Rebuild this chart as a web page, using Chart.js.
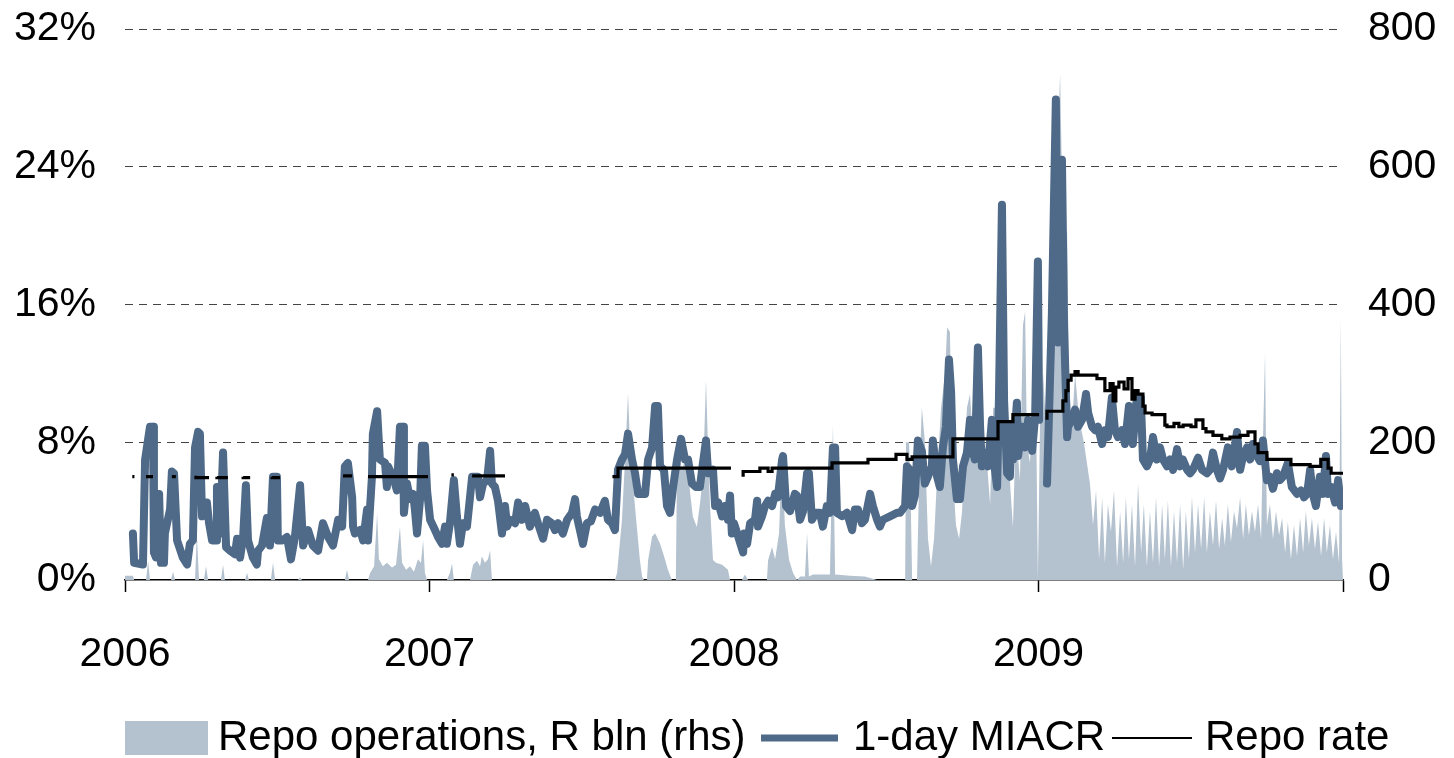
<!DOCTYPE html>
<html>
<head>
<meta charset="utf-8">
<script src="https://cdn.jsdelivr.net/npm/chart.js@4.4.1/dist/chart.umd.min.js"></script>
<style>
  html, body { margin: 0; padding: 0; background: #fff; }
</style>
</head>
<body>
<canvas id="chart" width="1454" height="758"></canvas>
<script>
// year ticks shown under the axis
const yearTicks = [2006, 2007, 2008, 2009];

// 1-day MIACR, % (date as decimal year)
const miacr = [
  [2006.026, 2.7], [2006.030, 1.0], [2006.059, 0.9], [2006.066, 7.0], [2006.082, 8.9], [2006.092, 8.9],
  [2006.095, 1.6], [2006.102, 1.3], [2006.105, 5.0], [2006.112, 5.0], [2006.118, 1.0], [2006.128, 1.0],
  [2006.131, 2.7], [2006.148, 4.1], [2006.154, 6.3], [2006.161, 6.2], [2006.171, 2.3], [2006.190, 1.3],
  [2006.204, 0.9], [2006.213, 2.1], [2006.223, 2.3], [2006.230, 7.7], [2006.240, 8.6], [2006.246, 8.5],
  [2006.253, 3.7], [2006.263, 4.5], [2006.269, 4.5], [2006.276, 3.3], [2006.286, 2.3], [2006.299, 2.3],
  [2006.302, 5.4], [2006.305, 5.4], [2006.312, 2.7], [2006.322, 7.4], [2006.325, 7.4], [2006.332, 1.9],
  [2006.345, 1.7], [2006.361, 1.5], [2006.368, 2.4], [2006.378, 1.3], [2006.388, 2.5], [2006.397, 5.5],
  [2006.404, 2.3], [2006.420, 1.3], [2006.433, 0.9], [2006.437, 1.7], [2006.450, 2.0], [2006.466, 3.6],
  [2006.476, 2.0], [2006.486, 6.0], [2006.499, 6.0], [2006.502, 2.3], [2006.516, 2.3], [2006.532, 2.5],
  [2006.545, 1.2], [2006.558, 2.5], [2006.575, 5.5], [2006.585, 2.0], [2006.601, 2.9], [2006.617, 2.0],
  [2006.634, 1.7], [2006.650, 3.3], [2006.667, 2.5], [2006.683, 2.0], [2006.700, 3.5], [2006.713, 3.1],
  [2006.722, 6.6], [2006.732, 6.8], [2006.746, 4.8], [2006.749, 3.1], [2006.755, 2.7], [2006.772, 2.9],
  [2006.782, 2.3], [2006.795, 4.1], [2006.798, 2.3], [2006.811, 6.0], [2006.814, 8.5], [2006.828, 9.8],
  [2006.837, 7.0], [2006.854, 6.8], [2006.860, 5.4], [2006.864, 6.6], [2006.880, 6.0], [2006.893, 5.2],
  [2006.903, 8.9], [2006.913, 8.9], [2006.916, 3.9], [2006.926, 5.6], [2006.936, 4.7], [2006.946, 5.0],
  [2006.952, 4.1], [2006.959, 2.7], [2006.969, 4.7], [2006.975, 7.8], [2006.985, 7.8], [2006.992, 5.2],
  [2007.002, 3.5], [2007.018, 2.9], [2007.028, 2.5], [2007.041, 2.1], [2007.051, 3.1], [2007.057, 2.1],
  [2007.067, 3.3], [2007.080, 5.8], [2007.090, 3.7], [2007.100, 2.1], [2007.110, 3.3], [2007.123, 3.1],
  [2007.133, 4.8], [2007.140, 6.0], [2007.159, 6.0], [2007.166, 4.8], [2007.176, 5.6], [2007.189, 5.8],
  [2007.199, 7.5], [2007.205, 5.6], [2007.215, 5.4], [2007.225, 4.6], [2007.238, 2.7], [2007.248, 4.3],
  [2007.255, 3.1], [2007.264, 3.5], [2007.281, 3.3], [2007.291, 4.5], [2007.304, 3.5], [2007.314, 4.3],
  [2007.330, 3.1], [2007.346, 3.9], [2007.356, 3.3], [2007.373, 2.4], [2007.386, 3.5], [2007.402, 3.3],
  [2007.412, 2.9], [2007.422, 3.3], [2007.438, 2.7], [2007.452, 3.5], [2007.468, 3.9], [2007.478, 4.7],
  [2007.484, 3.7], [2007.504, 2.1], [2007.517, 3.3], [2007.530, 3.4], [2007.544, 4.1], [2007.560, 3.9],
  [2007.576, 4.6], [2007.586, 3.5], [2007.599, 3.3], [2007.609, 2.9], [2007.619, 6.4], [2007.632, 7.0],
  [2007.642, 7.3], [2007.652, 8.5], [2007.665, 7.0], [2007.675, 6.2], [2007.685, 5.0], [2007.698, 5.0],
  [2007.708, 5.0], [2007.718, 7.0], [2007.731, 7.7], [2007.741, 10.1], [2007.750, 10.1], [2007.757, 6.6],
  [2007.770, 6.4], [2007.780, 4.3], [2007.790, 3.9], [2007.800, 5.4], [2007.813, 7.0], [2007.826, 8.2],
  [2007.839, 7.0], [2007.849, 7.0], [2007.862, 5.6], [2007.875, 5.4], [2007.888, 5.4], [2007.898, 6.8],
  [2007.908, 8.1], [2007.915, 6.2], [2007.931, 6.4], [2007.938, 4.3], [2007.948, 4.5], [2007.961, 3.7],
  [2007.970, 4.3], [2007.980, 3.5], [2007.987, 4.9], [2007.993, 2.7], [2008.000, 3.3], [2008.030, 1.6],
  [2008.033, 2.7], [2008.043, 2.1], [2008.053, 3.3], [2008.069, 3.5], [2008.076, 4.6], [2008.079, 3.1],
  [2008.092, 3.7], [2008.102, 4.3], [2008.112, 4.6], [2008.125, 4.3], [2008.135, 5.0], [2008.144, 4.8],
  [2008.158, 7.0], [2008.161, 7.2], [2008.171, 4.3], [2008.184, 4.0], [2008.200, 5.0], [2008.207, 4.9],
  [2008.217, 3.5], [2008.227, 4.0], [2008.240, 6.2], [2008.246, 6.2], [2008.256, 3.5], [2008.269, 3.9],
  [2008.282, 3.9], [2008.292, 3.1], [2008.305, 4.3], [2008.315, 3.9], [2008.325, 7.7], [2008.332, 7.7],
  [2008.338, 3.9], [2008.355, 3.7], [2008.371, 3.9], [2008.388, 2.9], [2008.397, 4.1], [2008.407, 4.1],
  [2008.420, 3.3], [2008.430, 3.5], [2008.447, 5.0], [2008.456, 4.3], [2008.470, 3.5], [2008.479, 3.1],
  [2008.489, 3.5], [2008.512, 3.7], [2008.535, 3.9], [2008.545, 3.9], [2008.562, 4.3], [2008.568, 6.6],
  [2008.578, 6.4], [2008.585, 4.3], [2008.594, 4.9], [2008.604, 8.1], [2008.617, 7.5], [2008.627, 5.6],
  [2008.637, 6.0], [2008.650, 6.6], [2008.653, 8.1], [2008.667, 6.0], [2008.676, 5.4], [2008.686, 7.7],
  [2008.696, 8.9], [2008.706, 12.8], [2008.713, 10.9], [2008.719, 7.0], [2008.732, 4.7], [2008.742, 4.7],
  [2008.752, 6.6], [2008.765, 7.4], [2008.775, 9.3], [2008.785, 7.4], [2008.791, 7.0], [2008.801, 13.5],
  [2008.808, 9.0], [2008.814, 6.6], [2008.824, 7.4], [2008.834, 6.6], [2008.847, 9.3], [2008.850, 7.4],
  [2008.864, 5.4], [2008.870, 10.5], [2008.880, 21.8], [2008.887, 10.4], [2008.897, 6.2], [2008.906, 6.0],
  [2008.913, 9.0], [2008.916, 7.0], [2008.929, 10.3], [2008.933, 7.2], [2008.946, 8.9], [2008.956, 7.7],
  [2008.966, 9.3], [2008.979, 7.5], [2008.989, 9.5], [2008.998, 18.5], [2009.002, 9.3], [2009.015, null],
  [2009.028, 5.6], [2009.044, 15.5], [2009.057, 27.9], [2009.064, 13.8], [2009.077, 24.4], [2009.084, 14.7],
  [2009.094, 8.3], [2009.097, 8.9], [2009.110, 9.3], [2009.120, 9.9], [2009.130, 8.9], [2009.143, 9.3],
  [2009.156, 10.8], [2009.163, 9.7], [2009.176, 8.9], [2009.186, 8.7], [2009.195, 8.9], [2009.209, 7.9],
  [2009.218, 8.7], [2009.228, 8.3], [2009.241, 10.6], [2009.251, 8.7], [2009.261, 8.3], [2009.274, 8.7],
  [2009.284, 7.9], [2009.297, 10.1], [2009.310, 7.9], [2009.323, 10.6], [2009.336, 10.6], [2009.343, 7.0],
  [2009.356, 6.6], [2009.366, 7.0], [2009.376, 8.3], [2009.389, 7.0], [2009.399, 7.7], [2009.409, 7.0],
  [2009.422, 6.6], [2009.432, 7.0], [2009.442, 6.4], [2009.455, 7.6], [2009.465, 6.6], [2009.474, 7.0],
  [2009.488, 6.4], [2009.498, 6.2], [2009.507, 6.4], [2009.524, 7.1], [2009.537, 6.4], [2009.553, 6.2],
  [2009.563, 6.4], [2009.573, 7.4], [2009.586, 6.4], [2009.596, 5.9], [2009.606, 6.4], [2009.622, 7.7],
  [2009.635, 6.6], [2009.652, 8.6], [2009.662, 6.4], [2009.672, 7.2], [2009.685, 7.7], [2009.695, 7.0],
  [2009.704, 7.9], [2009.718, 7.2], [2009.727, 6.9], [2009.737, 8.1], [2009.750, 5.8], [2009.760, 6.0],
  [2009.770, 5.3], [2009.783, 6.2], [2009.793, 5.8], [2009.803, 6.0], [2009.819, 6.8], [2009.832, 5.4],
  [2009.849, 5.0], [2009.862, 5.2], [2009.872, 4.8], [2009.882, 5.0], [2009.892, 6.4], [2009.901, 5.0],
  [2009.911, 4.3], [2009.924, 6.0], [2009.934, 5.0], [2009.944, 7.2], [2009.951, 5.0], [2009.961, 5.4],
  [2009.974, 4.5], [2009.984, 5.8], [2009.993, 4.3]
];

// Repo rate, % (null = no value shown)
const repoRate = [
  [2006.024, 6.0], [2006.031, 6.0], [2006.050, null],
  [2006.069, 6.0], [2006.092, 6.0], [2006.120, null],
  [2006.154, 6.0], [2006.167, 6.0], [2006.200, null],
  [2006.233, 6.05], [2006.276, 5.95], [2006.290, null],
  [2006.302, 6.0], [2006.338, 5.95], [2006.360, null],
  [2006.388, 6.0], [2006.411, 5.95], [2006.450, null],
  [2006.483, 6.0], [2006.509, 5.95], [2006.600, null],
  [2006.716, 6.05], [2006.746, 6.05], [2006.770, null],
  [2006.798, 6.0], [2006.995, 6.0], [2007.030, null],
  [2007.072, 6.1], [2007.080, 6.1], [2007.100, null],
  [2007.140, 6.05], [2007.248, 6.05], [2007.400, null],
  [2007.606, 6.1], [2007.619, 6.0], [2007.987, 6.5], [2007.990, 6.5], [2008.010, null],
  [2008.030, 6.0], [2008.085, 6.3], [2008.112, 6.5], [2008.125, 6.3], [2008.322, 6.5],
  [2008.440, 6.8], [2008.532, 7.0], [2008.568, 7.3], [2008.585, 7.0], [2008.719, 7.15],
  [2008.867, 8.2], [2008.916, 9.2], [2008.989, 9.6], [2009.002, 9.6], [2009.015, null],
  [2009.028, 9.3], [2009.080, 9.8], [2009.090, 10.4], [2009.097, 11.0], [2009.107, 11.6],
  [2009.120, 11.9], [2009.130, 12.1], [2009.192, 11.9], [2009.218, 11.7], [2009.235, 11.0],
  [2009.245, 11.4], [2009.254, 10.4], [2009.264, 11.2], [2009.281, 11.5], [2009.294, 11.1],
  [2009.307, 11.7], [2009.317, 10.5], [2009.327, 11.0], [2009.343, 10.8], [2009.350, 10.1],
  [2009.373, 9.7], [2009.415, 9.6], [2009.422, 9.0], [2009.445, 8.9], [2009.461, 9.1],
  [2009.475, 8.9], [2009.501, 9.0], [2009.517, 8.9], [2009.540, 9.3], [2009.550, 8.8],
  [2009.573, 8.6], [2009.602, 8.4], [2009.629, 8.2], [2009.662, 8.3], [2009.688, 8.4],
  [2009.711, 8.6], [2009.721, 7.9], [2009.750, 7.4], [2009.829, 7.0], [2009.892, 6.7],
  [2009.927, 6.6], [2009.951, 7.0], [2009.961, 6.5], [2009.990, 6.2], [2010.000, 6.2]
];

// Repo operations, R bln (right axis)
const repoOps = [
  [2006.000, 6], [2006.026, 6], [2006.030, 0], [2006.069, 0], [2006.076, 28], [2006.082, 0],
  [2006.151, 0], [2006.158, 12], [2006.164, 0], [2006.230, 0], [2006.236, 68], [2006.243, 0],
  [2006.259, 0], [2006.266, 20], [2006.273, 0], [2006.315, 0], [2006.322, 22], [2006.328, 0],
  [2006.394, 0], [2006.401, 10], [2006.407, 0], [2006.479, 0], [2006.486, 25], [2006.493, 0],
  [2006.568, 0], [2006.575, 4], [2006.581, 0], [2006.722, 0], [2006.729, 15], [2006.736, 0],
  [2006.798, 0], [2006.805, 10], [2006.818, 20], [2006.828, 97], [2006.834, 30], [2006.847, 20],
  [2006.860, 25], [2006.877, 18], [2006.890, 22], [2006.903, 77], [2006.910, 25], [2006.923, 15],
  [2006.936, 20], [2006.949, 12], [2006.962, 30], [2006.972, 25], [2006.979, 58], [2006.985, 10],
  [2006.992, 0], [2007.057, 0], [2007.067, 10], [2007.074, 24], [2007.080, 0], [2007.133, 0],
  [2007.143, 22], [2007.156, 28], [2007.166, 20], [2007.172, 34], [2007.182, 25], [2007.192, 30],
  [2007.199, 43], [2007.205, 0], [2007.609, 0], [2007.616, 10], [2007.632, 87], [2007.642, 174],
  [2007.652, 271], [2007.658, 200], [2007.668, 140], [2007.681, 77], [2007.691, 29], [2007.698, 5],
  [2007.704, 0], [2007.714, 0], [2007.718, 29], [2007.731, 63], [2007.741, 68], [2007.757, 53],
  [2007.770, 35], [2007.783, 15], [2007.796, 0], [2007.809, 0], [2007.813, 174], [2007.823, 174],
  [2007.829, 160], [2007.839, 174], [2007.849, 165], [2007.856, 126], [2007.865, 92], [2007.878, 77],
  [2007.888, 110], [2007.898, 150], [2007.908, 290], [2007.915, 190], [2007.921, 110], [2007.931, 29],
  [2007.941, 25], [2007.961, 22], [2007.980, 15], [2007.987, 0], [2008.026, 0], [2008.036, 8],
  [2008.046, 0], [2008.108, 0], [2008.112, 29], [2008.125, 48], [2008.135, 30], [2008.148, 68],
  [2008.158, 190], [2008.167, 80], [2008.181, 29], [2008.194, 10], [2008.207, 0], [2008.217, 5],
  [2008.233, 5], [2008.240, 68], [2008.246, 5], [2008.259, 8], [2008.315, 8], [2008.325, 225],
  [2008.332, 8], [2008.381, 6], [2008.430, 5], [2008.470, 0], [2008.562, 0], [2008.565, 200],
  [2008.575, 200], [2008.581, 100], [2008.585, 0], [2008.601, 0], [2008.608, 150], [2008.617, 250],
  [2008.627, 200], [2008.637, 60], [2008.647, 20], [2008.657, 60], [2008.667, 150], [2008.680, 250],
  [2008.693, 300], [2008.700, 367], [2008.709, 360], [2008.719, 150], [2008.729, 80], [2008.739, 60],
  [2008.749, 100], [2008.759, 200], [2008.765, 250], [2008.775, 270], [2008.785, 200], [2008.798, 220],
  [2008.808, 260], [2008.818, 180], [2008.831, 170], [2008.841, 110], [2008.851, 250], [2008.864, 250],
  [2008.874, 200], [2008.883, 240], [2008.893, 200], [2008.906, 145], [2008.916, 77], [2008.926, 220],
  [2008.939, 145], [2008.949, 370], [2008.956, 390], [2008.962, 200], [2008.972, 170], [2008.982, 270],
  [2008.992, 250], [2008.998, 0], [2009.005, 230], [2009.015, 300], [2009.025, 220], [2009.038, 280],
  [2009.048, 470], [2009.057, 560], [2009.071, 735], [2009.080, 510], [2009.094, 505], [2009.100, 280],
  [2009.110, 222], [2009.120, 300], [2009.130, 250], [2009.140, 220], [2009.149, 200], [2009.159, 170],
  [2009.169, 140], [2009.179, 80], [2009.189, 130], [2009.199, 30], [2009.209, 120], [2009.218, 25],
  [2009.228, 110], [2009.238, 70], [2009.248, 130], [2009.258, 20], [2009.268, 100], [2009.278, 25],
  [2009.287, 120], [2009.297, 30], [2009.307, 110], [2009.317, 20], [2009.327, 140], [2009.337, 40],
  [2009.346, 110], [2009.356, 20], [2009.366, 100], [2009.376, 25], [2009.386, 120], [2009.396, 20],
  [2009.406, 110], [2009.415, 30], [2009.425, 115], [2009.435, 20], [2009.445, 100], [2009.455, 25],
  [2009.465, 110], [2009.475, 15], [2009.484, 100], [2009.494, 30], [2009.504, 120], [2009.514, 40],
  [2009.524, 110], [2009.534, 45], [2009.544, 120], [2009.553, 40], [2009.563, 100], [2009.573, 50],
  [2009.583, 115], [2009.593, 45], [2009.603, 90], [2009.612, 50], [2009.622, 110], [2009.632, 55],
  [2009.642, 100], [2009.652, 75], [2009.662, 120], [2009.672, 60], [2009.681, 110], [2009.691, 65],
  [2009.701, 100], [2009.711, 70], [2009.721, 110], [2009.731, 60], [2009.737, 200], [2009.744, 330],
  [2009.750, 80], [2009.760, 110], [2009.770, 60], [2009.780, 100], [2009.790, 65], [2009.800, 90],
  [2009.810, 40], [2009.819, 85], [2009.829, 30], [2009.839, 80], [2009.849, 35], [2009.859, 90],
  [2009.869, 40], [2009.878, 100], [2009.888, 50], [2009.898, 90], [2009.908, 45], [2009.918, 85],
  [2009.928, 35], [2009.938, 90], [2009.947, 40], [2009.957, 80], [2009.967, 30], [2009.977, 70],
  [2009.987, 25], [2009.993, 380], [2009.997, 30], [2010.000, 0]
];

const FONT = '"Liberation Sans", Arial, sans-serif';
const MIACR_COLOR = '#4e6a88';
const OPS_COLOR = '#b4c2cf';

const toPoints = arr => arr.map(([x, y]) => ({ x, y }));

// keep the plot area where the original has it: no extra room for tick labels
const fixVertical = width => s => {
  s.width = width;
  s.paddingTop = 0;
  s.paddingBottom = 0;
};

// legend drawn under the axis, same look as the original
const bottomLegend = {
  id: 'bottomLegend',
  afterDraw(chart) {
    const ctx = chart.ctx;
    const ds = chart.data.datasets;
    const y = 738;
    ctx.save();
    ctx.font = '42px ' + FONT;
    ctx.textBaseline = 'middle';
    ctx.fillStyle = OPS_COLOR;
    ctx.fillRect(125, 721, 83, 34);
    ctx.fillStyle = '#000';
    ctx.fillText(ds[2].label, 218, y);

    ctx.strokeStyle = MIACR_COLOR;
    ctx.lineWidth = 7;
    ctx.beginPath();
    ctx.moveTo(761, y);
    ctx.lineTo(838, y);
    ctx.stroke();
    ctx.fillText(ds[1].label, 853, y);

    ctx.strokeStyle = '#000';
    ctx.lineWidth = 2;
    ctx.beginPath();
    ctx.moveTo(1112, y);
    ctx.lineTo(1192, y);
    ctx.stroke();
    ctx.fillText(ds[0].label, 1205, y);
    ctx.restore();
  }
};

new Chart(document.getElementById('chart').getContext('2d'), {
  type: 'line',
  data: {
    datasets: [
      {
        label: 'Repo rate',
        data: toPoints(repoRate),
        yAxisID: 'y',
        borderColor: '#000',
        borderWidth: 3.2,
        stepped: 'after',
        pointRadius: 0,
        fill: false
      },
      {
        label: '1-day MIACR',
        data: toPoints(miacr),
        yAxisID: 'y',
        borderColor: MIACR_COLOR,
        borderWidth: 8,
        borderJoinStyle: 'round',
        borderCapStyle: 'round',
        pointRadius: 0,
        tension: 0,
        fill: false
      },
      {
        label: 'Repo operations, R bln (rhs)',
        data: toPoints(repoOps),
        yAxisID: 'y1',
        borderColor: 'rgba(0,0,0,0)',
        borderWidth: 0,
        backgroundColor: OPS_COLOR,
        pointRadius: 0,
        tension: 0,
        fill: 'origin'
      }
    ]
  },
  options: {
    responsive: false,
    animation: false,
    devicePixelRatio: 1,
    layout: { padding: { top: 29, bottom: 60, left: 0, right: 0 } },
    plugins: {
      legend: { display: false },
      tooltip: { enabled: false }
    },
    scales: {
      x: {
        type: 'linear',
        min: 2006,
        max: 2010,
        afterFit: s => { s.height = 118; s.paddingLeft = 0; s.paddingRight = 0; },
        afterBuildTicks: s => { s.ticks = yearTicks.concat([2010]).map(v => ({ value: v })); },
        ticks: {
          padding: 38,
          maxRotation: 0,
          autoSkip: false,
          color: '#000',
          font: { family: FONT, size: 41 },
          callback: v => (yearTicks.includes(v) ? String(v) : '')
        },
        grid: {
          drawOnChartArea: false,
          drawTicks: true,
          tickLength: 12,
          tickColor: '#000',
          tickWidth: 1.5
        },
        border: { display: true, color: '#000', width: 1.5 }
      },
      y: {
        position: 'left',
        min: 0,
        max: 32,
        afterFit: fixVertical(125),
        ticks: {
          stepSize: 8,
          padding: 29,
          color: '#000',
          font: { family: FONT, size: 41 },
          callback: v => v + '%'
        },
        grid: {
          color: ctx => (ctx.tick.value === 0 ? 'rgba(0,0,0,0)' : '#444'),
          lineWidth: 1,
          drawTicks: false
        },
        border: { display: false, dash: [8, 6] }
      },
      y1: {
        position: 'right',
        min: 0,
        max: 800,
        afterFit: fixVertical(111),
        ticks: {
          stepSize: 200,
          padding: 25,
          color: '#000',
          font: { family: FONT, size: 41 }
        },
        grid: { drawOnChartArea: false, drawTicks: false },
        border: { display: false }
      }
    }
  },
  plugins: [bottomLegend]
});
</script>
</body>
</html>
